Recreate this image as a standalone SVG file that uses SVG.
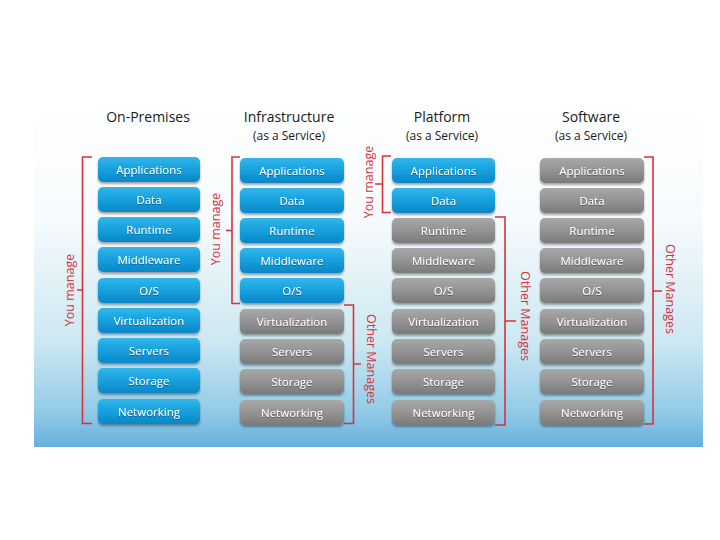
<svg xmlns="http://www.w3.org/2000/svg" width="720" height="540" viewBox="0 0 720 540">
<defs>
<linearGradient id="bg" x1="0" y1="0" x2="0" y2="1">
<stop offset="0" stop-color="#ffffff"/>
<stop offset="0.35" stop-color="#f7fbfd"/>
<stop offset="0.7" stop-color="#cde8f2"/>
<stop offset="0.9" stop-color="#92cbe7"/>
<stop offset="1" stop-color="#65b0dc"/>
</linearGradient>
<linearGradient id="blue" x1="0" y1="0" x2="0" y2="1">
<stop offset="0" stop-color="#33b6ea"/>
<stop offset="0.5" stop-color="#16a0dd"/>
<stop offset="1" stop-color="#0a86c6"/>
</linearGradient>
<linearGradient id="gray" x1="0" y1="0" x2="0" y2="1">
<stop offset="0" stop-color="#a8a8a8"/>
<stop offset="0.5" stop-color="#939393"/>
<stop offset="1" stop-color="#7a7a7a"/>
</linearGradient>
<filter id="sh" x="-10%" y="-20%" width="120%" height="160%">
<feDropShadow dx="0" dy="2" stdDeviation="1.2" flood-color="#000" flood-opacity="0.35"/>
</filter>
<filter id="tsh" x="-10%" y="-30%" width="120%" height="160%">
<feDropShadow dx="0" dy="1" stdDeviation="0.6" flood-color="#000" flood-opacity="0.35"/>
</filter>
</defs>
<style>
.b rect{fill:url(#blue);filter:url(#sh)}
.g rect{fill:url(#gray);filter:url(#sh)}
.n text{font-family:"Open Sans","Noto Sans","DejaVu Sans",sans-serif;font-size:11.5px;fill:#ffffff;text-anchor:middle;filter:url(#tsh)}
.h{font-family:"Open Sans","Noto Sans","DejaVu Sans",sans-serif;fill:#1a1a1a;text-anchor:middle}
.h1{font-size:14px}
.h2{font-size:12px}
.br{fill:none;stroke:#d6333a;stroke-width:1.6}
.lab{font-family:"Open Sans","Noto Sans","DejaVu Sans",sans-serif;font-size:12.5px;fill:#d6333a;text-anchor:middle}
</style>
<rect x="0" y="0" width="720" height="540" fill="#ffffff"/>
<rect x="34" y="95" width="669" height="352" fill="url(#bg)"/>

<g id="headers">
<text class="h h1" x="148" y="122">On-Premises</text>
<text class="h h1" x="289" y="122">Infrastructure</text>
<text class="h h2" x="289" y="139.5">(as a Service)</text>
<text class="h h1" x="442" y="122">Platform</text>
<text class="h h2" x="442" y="139.5">(as a Service)</text>
<text class="h h1" x="591" y="122">Software</text>
<text class="h h2" x="591" y="139.5">(as a Service)</text>
</g>

<g id="col-onprem">
<g id="op-app" class="n b"><rect x="98" y="157" width="102" height="25" rx="5"/><text x="149" y="173.5">Applications</text></g>
<g id="op-data" class="n b"><rect x="98" y="187" width="102" height="25" rx="5"/><text x="149" y="203.5">Data</text></g>
<g id="op-runtime" class="n b"><rect x="98" y="217" width="102" height="25" rx="5"/><text x="149" y="233.5">Runtime</text></g>
<g id="op-middleware" class="n b"><rect x="98" y="247" width="102" height="25" rx="5"/><text x="149" y="263.5">Middleware</text></g>
<g id="op-os" class="n b"><rect x="98" y="278" width="102" height="25" rx="5"/><text x="149" y="294.5">O/S</text></g>
<g id="op-virt" class="n b"><rect x="98" y="308" width="102" height="25" rx="5"/><text x="149" y="324.5">Virtualization</text></g>
<g id="op-servers" class="n b"><rect x="98" y="338" width="102" height="25" rx="5"/><text x="149" y="354.5">Servers</text></g>
<g id="op-storage" class="n b"><rect x="98" y="368" width="102" height="25" rx="5"/><text x="149" y="384.5">Storage</text></g>
<g id="op-net" class="n b"><rect x="98" y="399" width="102" height="25" rx="5"/><text x="149" y="415.5">Networking</text></g>
</g>

<g id="col-iaas">
<g id="ia-app" class="n b"><rect x="240" y="158" width="104" height="25" rx="5"/><text x="292" y="174.5">Applications</text></g>
<g id="ia-data" class="n b"><rect x="240" y="188" width="104" height="25" rx="5"/><text x="292" y="204.5">Data</text></g>
<g id="ia-runtime" class="n b"><rect x="240" y="218" width="104" height="25" rx="5"/><text x="292" y="234.5">Runtime</text></g>
<g id="ia-middleware" class="n b"><rect x="240" y="248" width="104" height="25" rx="5"/><text x="292" y="264.5">Middleware</text></g>
<g id="ia-os" class="n b"><rect x="240" y="278" width="104" height="25" rx="5"/><text x="292" y="294.5">O/S</text></g>
<g id="ia-virt" class="n g"><rect x="240" y="309" width="104" height="25" rx="5"/><text x="292" y="325.5">Virtualization</text></g>
<g id="ia-servers" class="n g"><rect x="240" y="339" width="104" height="25" rx="5"/><text x="292" y="355.5">Servers</text></g>
<g id="ia-storage" class="n g"><rect x="240" y="369" width="104" height="25" rx="5"/><text x="292" y="385.5">Storage</text></g>
<g id="ia-net" class="n g"><rect x="240" y="400" width="104" height="25" rx="5"/><text x="292" y="416.5">Networking</text></g>
</g>

<g id="col-paas">
<g id="pa-app" class="n b"><rect x="392" y="158" width="103" height="25" rx="5"/><text x="443.5" y="174.5">Applications</text></g>
<g id="pa-data" class="n b"><rect x="392" y="188" width="103" height="25" rx="5"/><text x="443.5" y="204.5">Data</text></g>
<g id="pa-runtime" class="n g"><rect x="392" y="218" width="103" height="25" rx="5"/><text x="443.5" y="234.5">Runtime</text></g>
<g id="pa-middleware" class="n g"><rect x="392" y="248" width="103" height="25" rx="5"/><text x="443.5" y="264.5">Middleware</text></g>
<g id="pa-os" class="n g"><rect x="392" y="278" width="103" height="25" rx="5"/><text x="443.5" y="294.5">O/S</text></g>
<g id="pa-virt" class="n g"><rect x="392" y="309" width="103" height="25" rx="5"/><text x="443.5" y="325.5">Virtualization</text></g>
<g id="pa-servers" class="n g"><rect x="392" y="339" width="103" height="25" rx="5"/><text x="443.5" y="355.5">Servers</text></g>
<g id="pa-storage" class="n g"><rect x="392" y="369" width="103" height="25" rx="5"/><text x="443.5" y="385.5">Storage</text></g>
<g id="pa-net" class="n g"><rect x="392" y="400" width="103" height="25" rx="5"/><text x="443.5" y="416.5">Networking</text></g>
</g>

<g id="col-saas">
<g id="sa-app" class="n g"><rect x="540" y="158" width="104" height="25" rx="5"/><text x="592" y="174.5">Applications</text></g>
<g id="sa-data" class="n g"><rect x="540" y="188" width="104" height="25" rx="5"/><text x="592" y="204.5">Data</text></g>
<g id="sa-runtime" class="n g"><rect x="540" y="218" width="104" height="25" rx="5"/><text x="592" y="234.5">Runtime</text></g>
<g id="sa-middleware" class="n g"><rect x="540" y="248" width="104" height="25" rx="5"/><text x="592" y="264.5">Middleware</text></g>
<g id="sa-os" class="n g"><rect x="540" y="278" width="104" height="25" rx="5"/><text x="592" y="294.5">O/S</text></g>
<g id="sa-virt" class="n g"><rect x="540" y="309" width="104" height="25" rx="5"/><text x="592" y="325.5">Virtualization</text></g>
<g id="sa-servers" class="n g"><rect x="540" y="339" width="104" height="25" rx="5"/><text x="592" y="355.5">Servers</text></g>
<g id="sa-storage" class="n g"><rect x="540" y="369" width="104" height="25" rx="5"/><text x="592" y="385.5">Storage</text></g>
<g id="sa-net" class="n g"><rect x="540" y="400" width="104" height="25" rx="5"/><text x="592" y="416.5">Networking</text></g>
</g>

<g id="connectors">
<path class="br" d="M92,157 H82.5 V423.5 H92 M82.5,290 H77"/>
<path class="br" d="M240,157 H232 V303.5 H240 M232,230.5 H226"/>
<path class="br" d="M391,156 H382.5 V212.5 H391 M382.5,184 H375"/>
<path class="br" d="M495,217 H505 V425 H495 M505,321 H516"/>
<path class="br" d="M344,305 H353.5 V423.5 H344 M353.5,364 H361"/>
<path class="br" d="M644,157 H653 V424 H644 M653,291 H662"/>
</g>

<g id="labels">
<text class="lab" transform="translate(74,290) rotate(-90)">You manage</text>
<text class="lab" transform="translate(220,229) rotate(-90)">You manage</text>
<text class="lab" transform="translate(372.5,182) rotate(-90)">You manage</text>
<text class="lab" transform="translate(521,316) rotate(90)">Other Manages</text>
<text class="lab" transform="translate(367,359) rotate(90)">Other Manages</text>
<text class="lab" transform="translate(666,289) rotate(90)">Other Manages</text>
</g>
</svg>
